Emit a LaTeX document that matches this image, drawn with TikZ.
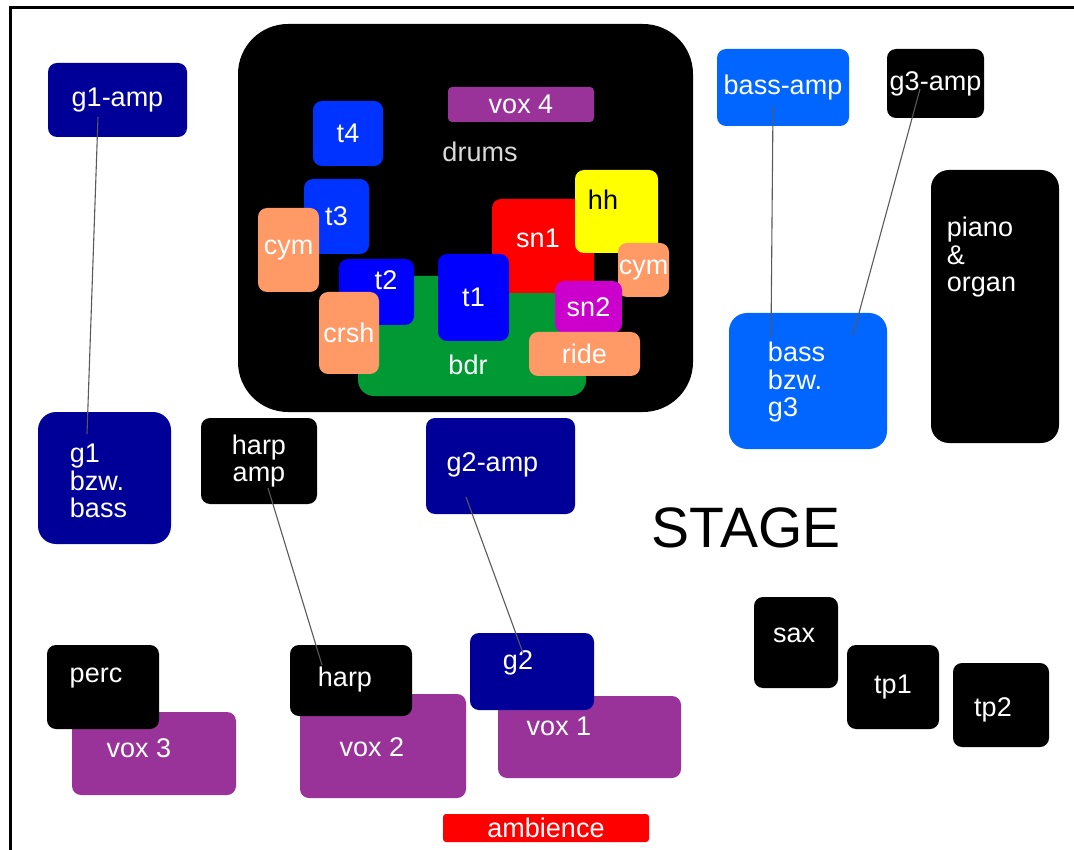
\documentclass[tikz,border=0pt]{standalone}
\usepackage{fontspec}
\setmainfont{Liberation Sans}
\definecolor{ampnavy}{HTML}{000099}
\definecolor{ampblue}{HTML}{0066FF}
\definecolor{tomblue}{HTML}{0033FF}
\definecolor{pureblue}{HTML}{0000FF}
\definecolor{voxpurple}{HTML}{993399}
\definecolor{cymbal}{HTML}{FF9966}
\definecolor{kickgreen}{HTML}{009933}
\definecolor{snarered}{HTML}{FF0000}
\definecolor{snaremag}{HTML}{CC00CC}
\definecolor{hatyellow}{HTML}{FFFF00}
\begin{document}
\begin{tikzpicture}[x=1pt, y=-1pt,
    box/.style={rectangle, rounded corners=9pt, inner sep=0pt, text=white, align=center, font=\fontsize{27}{27.5}\selectfont},
    lbl/.style={inner sep=0pt, text=white, align=left, font=\fontsize{27}{27.5}\selectfont},
    cable/.style={draw=black!65, line width=1.1pt}]
    \useasboundingbox (0,0) rectangle (1074,850);
    % 边框
    \draw[line width=3pt] (10,850) -- (10,7.5) -- (1074,7.5);

    % 鼓组
    \node[box, fill=black, rounded corners=50pt, minimum width=455pt, minimum height=388pt] (kit) at (465.5,218) {};
    \node[lbl, text=white!85!black] (drums) at (480,152) {drums};
    \node[box, fill=voxpurple, rounded corners=4pt, minimum width=146pt, minimum height=35pt] (vox4) at (521,104.5) {vox 4};
    \node[box, fill=tomblue, minimum width=70pt, minimum height=65pt] (t4) at (348,133.5) {t4};
    \node[box, fill=tomblue, minimum width=65pt, minimum height=75pt] (t3) at (336.5,216.5) {t3};
    \node[box, fill=cymbal, minimum width=61pt, minimum height=84pt] (cymL) at (288.5,250) {cym};
    \node[box, fill=kickgreen, rounded corners=16pt, minimum width=228pt, minimum height=120pt] (bdr) at (472,336) {};
    \node[lbl] (bdr-l) at (468,365) {bdr};
    \node[box, fill=pureblue, minimum width=75pt, minimum height=66pt] (t2) at (376.5,292) {};
    \node[lbl] (t2-l) at (386,280) {t2};
    \node[box, fill=cymbal, minimum width=60pt, minimum height=82pt] (crsh) at (349,333) {crsh};
    \node[box, fill=snarered, minimum width=102pt, minimum height=94pt] (sn1) at (543,246) {};
    \node[lbl] (sn1-l) at (538,238) {sn1};
    \node[box, fill=pureblue, minimum width=71pt, minimum height=87pt] (t1) at (473.5,297.5) {t1};
    \node[box, fill=hatyellow, minimum width=83pt, minimum height=83pt] (hh) at (616.5,211.5) {};
    \node[lbl, text=black] (hh-l) at (603,200) {hh};
    \node[box, fill=cymbal, minimum width=51pt, minimum height=54pt] (cymR) at (643.5,270) {cym};
    \node[box, fill=snaremag, minimum width=67pt, minimum height=52pt] (sn2) at (588.5,307) {sn2};
    \node[box, fill=cymbal, minimum width=111pt, minimum height=44pt] (ride) at (584.5,354) {ride};

    % 左侧吉他
    \node[box, fill=ampnavy, minimum width=139pt, minimum height=74pt] (g1amp) at (117.5,100) {g1-amp};
    \node[box, fill=ampnavy, rounded corners=18pt, minimum width=133pt, minimum height=132pt] (g1) at (104.5,478) {};
    \node[lbl] (g1-l) at (98.5,481) {g1\\bzw.\\bass};

    % 右侧贝斯与键盘
    \node[box, fill=ampblue, minimum width=132pt, minimum height=77pt] (bassamp) at (783,87.5) {bass-amp};
    \node[box, fill=black, minimum width=97pt, minimum height=69pt] (g3amp) at (935.5,83.5) {g3-amp};
    \node[box, fill=ampblue, rounded corners=18pt, minimum width=158pt, minimum height=136pt] (bass) at (808,381) {};
    \node[lbl] (bass-l) at (796.5,382.5) {bass\\bzw.\\g3};
    \node[box, fill=black, rounded corners=18pt, minimum width=128pt, minimum height=273pt] (keys) at (995,306.5) {};
    \node[lbl] (keys-l) at (981.5,257.5) {piano\\\&\\organ};

    % 中间音箱
    \node[box, fill=black, minimum width=116pt, minimum height=86pt] (harpamp) at (259,461) {harp\\amp};
    \node[box, fill=ampnavy, minimum width=149pt, minimum height=96pt] (g2amp) at (500.5,466) {};
    \node[lbl] (g2amp-l) at (492.5,465) {g2-amp};

    % 前排
    \node[box, fill=voxpurple, minimum width=164pt, minimum height=83pt] (vox3) at (154,753.5) {};
    \node[lbl] (vox3-l) at (139,748) {vox 3};
    \node[box, fill=black, minimum width=112pt, minimum height=84pt] (perc) at (103,687) {};
    \node[lbl] (perc-l) at (96,678) {perc};
    \node[box, fill=voxpurple, minimum width=166pt, minimum height=104pt] (vox2) at (383,746) {};
    \node[lbl] (vox2-l) at (372,747) {vox 2};
    \node[box, fill=black, minimum width=122pt, minimum height=71pt] (harp) at (351,680.5) {};
    \node[lbl] (harp-l) at (345,680) {harp};
    \node[box, fill=voxpurple, minimum width=183pt, minimum height=82pt] (vox1) at (589.5,737) {};
    \node[lbl] (vox1-l) at (559,726) {vox 1};
    \node[box, fill=ampnavy, minimum width=124pt, minimum height=77pt] (g2) at (532,671.5) {};
    \node[lbl] (g2-l) at (518,663) {g2};
    \node[box, fill=snarered, rounded corners=3pt, minimum width=206pt, minimum height=28pt] (amb) at (546,828) {ambience};

    % 管乐
    \node[box, fill=black, minimum width=84pt, minimum height=91pt] (sax) at (796,642.5) {};
    \node[lbl] (sax-l) at (794,635) {sax};
    \node[box, fill=black, minimum width=92pt, minimum height=84pt] (tp1) at (893,687) {tp1};
    \node[box, fill=black, minimum width=96pt, minimum height=84pt] (tp2) at (1001,705) {};
    \node[lbl] (tp2-l) at (993,710) {tp2};

    \node[inner sep=0pt, font=\fontsize{57}{57}\selectfont] (stage) at (746,528) {STAGE};

    % 连线
    \draw[cable] ([shift={(-19.5,17)}]g1amp.center) -- ([shift={(-17.5,-44)}]g1.center);
    \draw[cable] ([shift={(9,27)}]harpamp.center) -- ([shift={(-29,-15.5)}]harp.center);
    \draw[cable] ([shift={(-34.5,31)}]g2amp.center) -- ([shift={(-9,-18.5)}]g2.center);
    \draw[cable] ([shift={(-10,19.5)}]bassamp.center) -- ([shift={(-37,-44)}]bass.center);
    \draw[cable] ([shift={(-15.5,5.5)}]g3amp.center) -- ([shift={(45,-46)}]bass.center);
\end{tikzpicture}
\end{document}
